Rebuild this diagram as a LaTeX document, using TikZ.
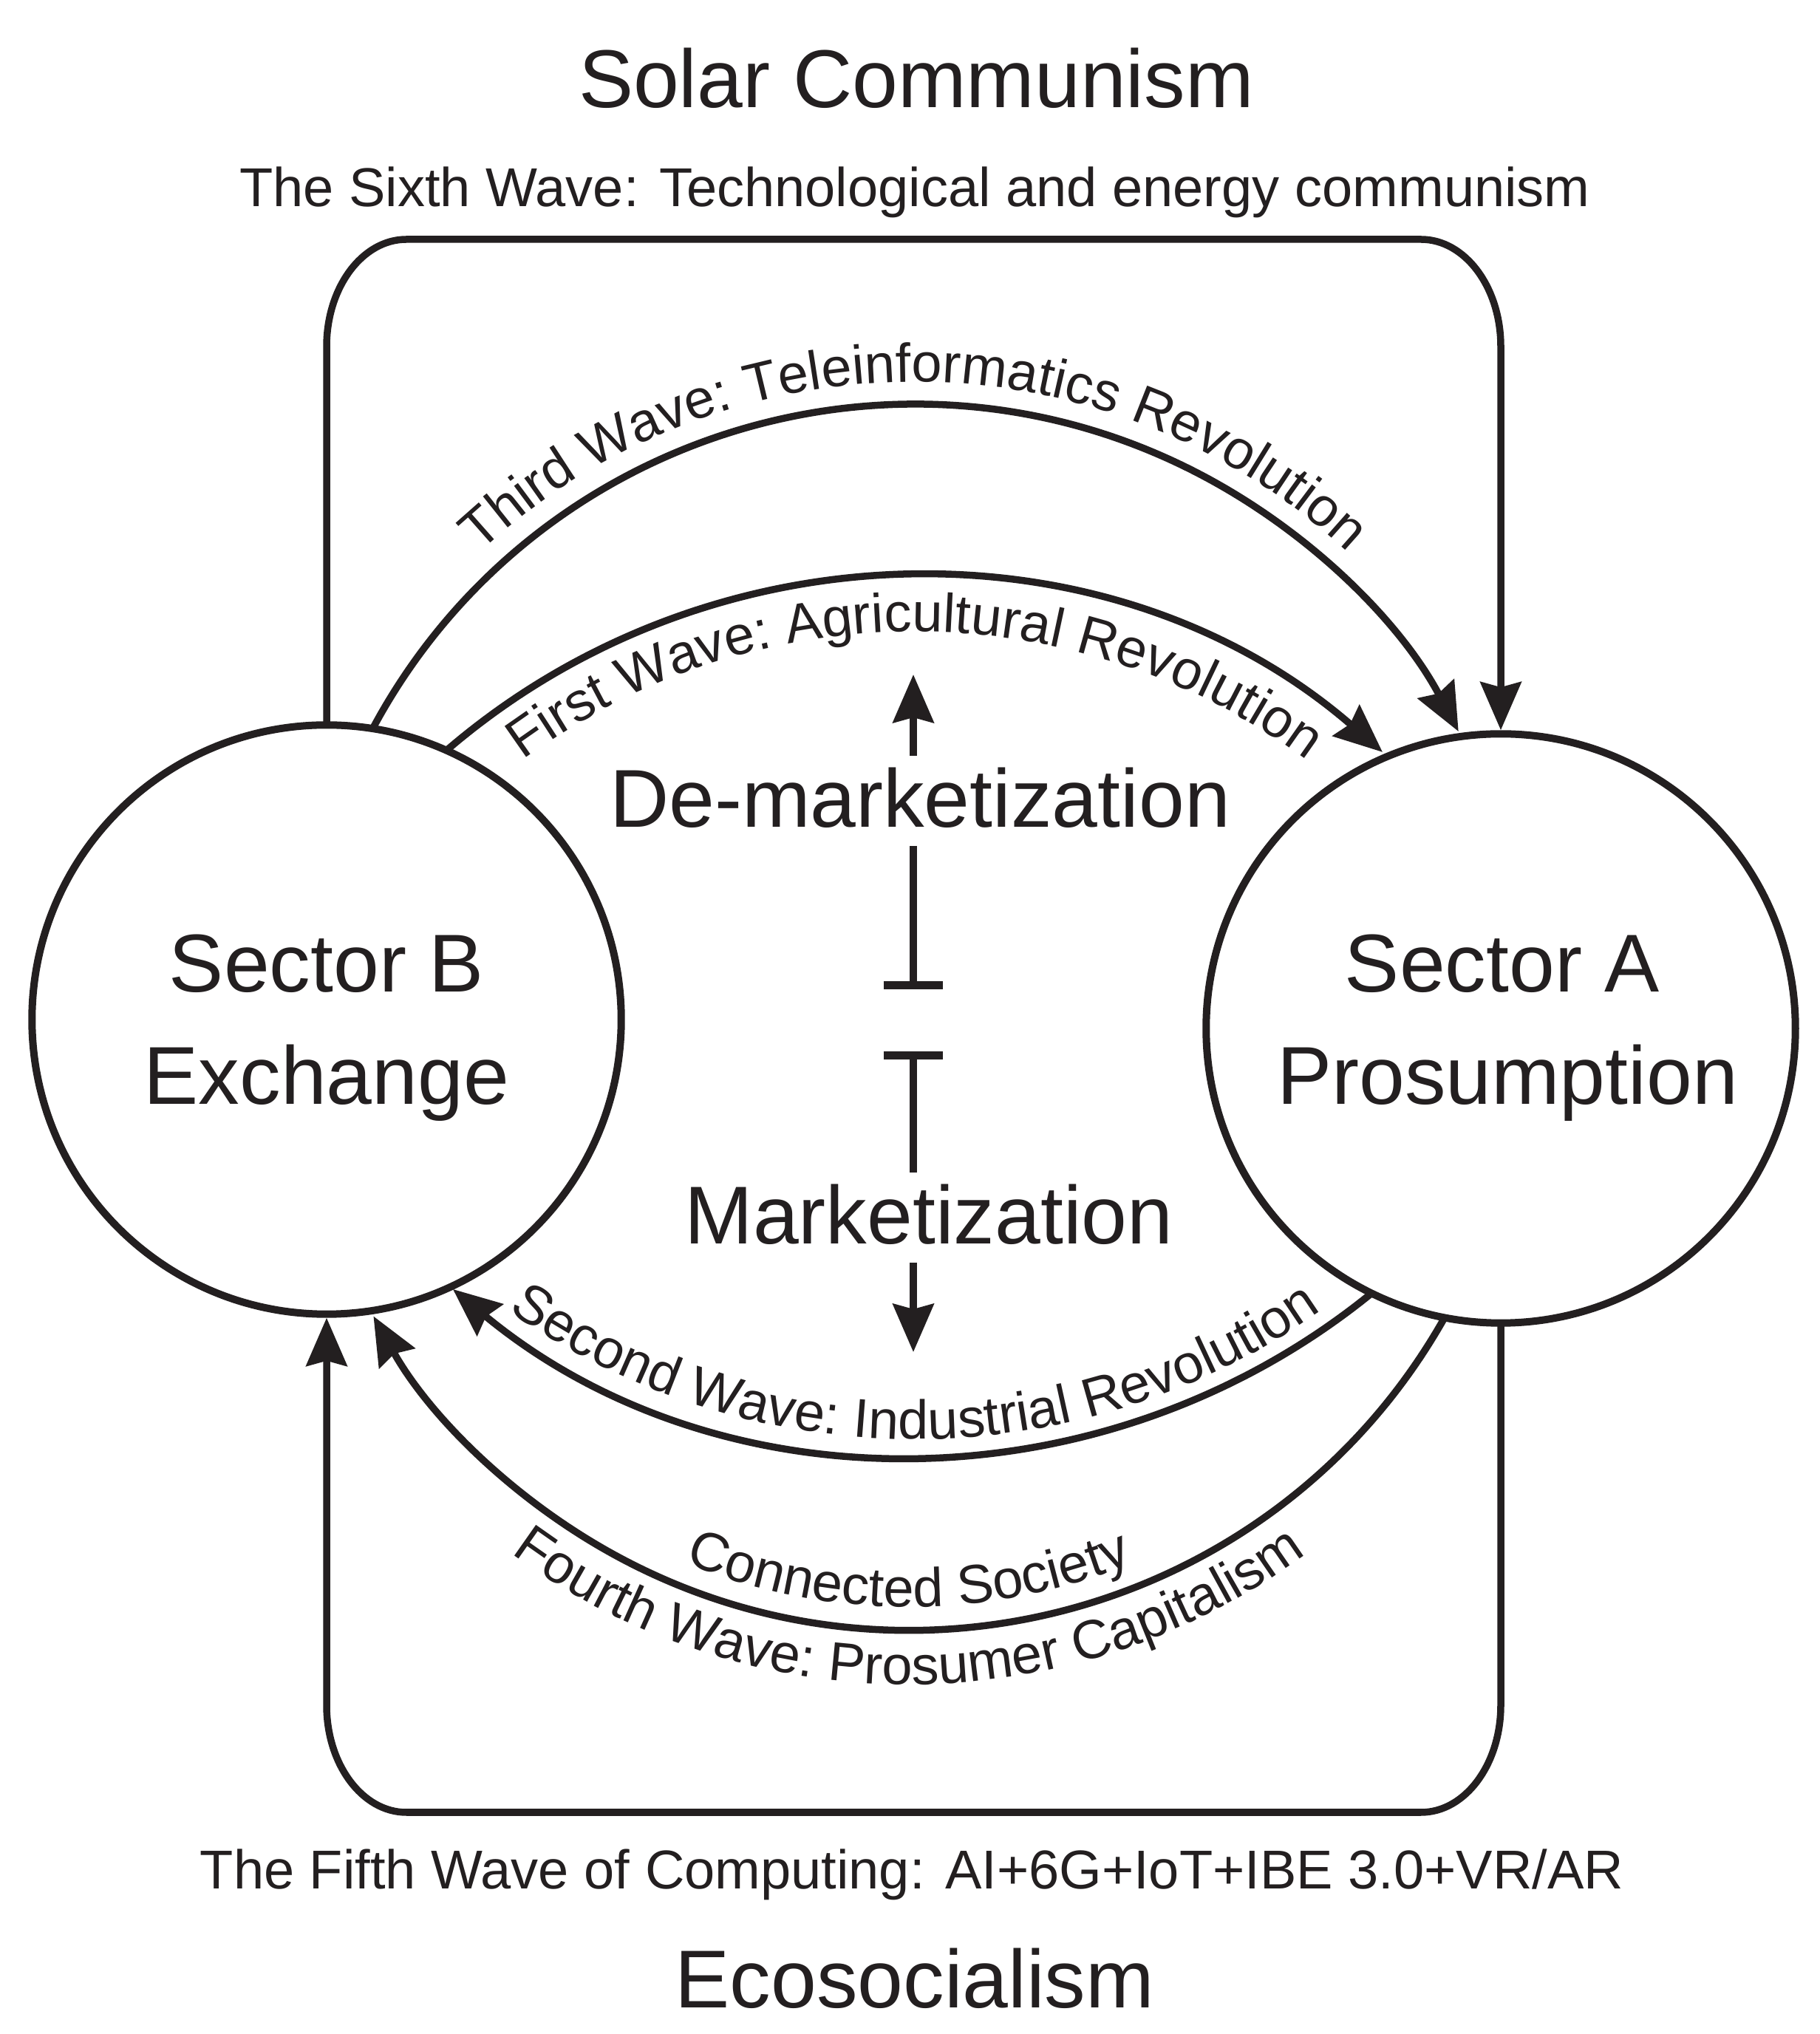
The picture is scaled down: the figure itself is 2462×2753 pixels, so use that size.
\documentclass[tikz,border=0pt]{standalone}
\usepackage{fontspec}
\setmainfont{Liberation Sans}
\usetikzlibrary{arrows.meta,decorations.text}
\definecolor{ink}{RGB}{35,31,32}
\newcommand\sizeL{\fontsize{31.6pt}{43.2pt}\selectfont}
\newcommand\sizeM{\fontsize{21.06pt}{25.3pt}\selectfont}
\tikzset{
  conn/.style={draw=ink, line width=0.095cm},
  tipstyle/.style={-{Stealth[length=0.65cm,width=0.55cm,inset=0.07cm]}},
  arr/.style={conn, tipstyle},
  arrv/.style={conn, tipstyle, shorten >=0.05cm},
  sector/.style={circle, draw=ink, line width=0.1cm, minimum size=7.97cm, inner sep=0pt, outer sep=0pt},
  big/.style={font=\sizeL, text=ink, inner sep=0pt, anchor=base},
  mid/.style={font=\sizeM, text=ink, inner sep=0pt, anchor=base},
  curved/.style={decorate, decoration={text along path, text align=center, text color=ink, text={#1}}},
}
\begin{document}
\begin{tikzpicture}[x=0.01cm, y=0.01cm]
\useasboundingbox (0,0) rectangle (2462,2753);

% sectors
\node[sector] (B) at (442,1373) {};
\node[sector] (A) at (2031,1361) {};
\node[big] (Bt1) at (442,1410) {Sector B};
\node[big] (Bt2) at (442,1258) {Exchange};
\node[big] (At1) at (2033,1410) {Sector A};
\node[big] (At2) at (2040,1258) {Prosumption};

% titles
\node[big] (solar) at (1240,2607) {Solar Communism};
\node[mid] (sixth) at (1238,2473) {The Sixth Wave: Technological and energy communism};
\node[mid] (fifth) at (1234,196) {The Fifth Wave of Computing: AI+6G+IoT+IBE 3.0+VR/AR};
\node[big] (eco) at (1238,35) {Ecosocialism};

% centre
\node[big] (demark) at (1245,1633) {De-marketization};
\node[big] (mark) at (1257,1069) {Marketization};
\coordinate (upS) at (1236,1730);
\coordinate (upE) at (1236,1840);
\coordinate (tbS) at (1236,1608);
\coordinate (tbE) at (1236,1419);
\coordinate (bbS) at (1236,1166);
\coordinate (bbE) at (1236,1324);
\coordinate (dnS) at (1236,1044);
\coordinate (dnE) at (1236,923);
\draw[arr] (upS) -- (upE);
\draw[arr] (dnS) -- (dnE);
\draw[conn] (tbS) -- (tbE);
\draw[conn, line width=0.11cm] ([xshift=-0.4cm]tbE) -- ([xshift=0.4cm]tbE);
\draw[conn] (bbS) -- (bbE);
\draw[conn, line width=0.11cm] ([xshift=-0.4cm]bbE) -- ([xshift=0.4cm]bbE);

% outer loops
\draw[arrv] (B.north) -- (442,2284) arc[start angle=180, end angle=90, x radius=108, y radius=145]
  -- (1923,2429) arc[start angle=90, end angle=0, x radius=108, y radius=145] -- (A.north);
\draw[arrv] (A.south) -- (2031,445) arc[start angle=0, end angle=-90, x radius=108, y radius=145]
  -- (550,300) arc[start angle=270, end angle=180, x radius=108, y radius=145] -- (B.south);

% wave arcs
\draw[arr] (B.81) arc[start angle=151.8, end angle=27.9, radius=832.5];
\draw[arr] (B.66) arc[start angle=130.7, end angle=49.1, radius=969.4];
\draw[arr] (A.244) arc[start angle=-50.9, end angle=-129.6, radius=980.5];
\draw[arr] (A.259) arc[start angle=-29.4, end angle=-150.75, radius=831.3];

% curved labels
\coordinate (c3) at (1237,1374);
\coordinate (c1) at (1238,1002);
\coordinate (c2) at (1238,1763);
\coordinate (c4) at (1230,1378);
\path[curved={|\sizeM|Third Wave: Teleinformatics Revolution}]
  ([shift={(150:862)}]c3) arc[start angle=150, end angle=30, radius=862];
\path[curved={|\sizeM|First Wave: Agricultural Revolution}]
  ([shift={(130:896)}]c1) arc[start angle=130, end angle=50, radius=896];
\path[curved={|\sizeM|Second Wave: Industrial Revolution}]
  ([shift={(-140:958)}]c2) arc[start angle=-140, end angle=-40, radius=958];
\path[curved={|\sizeM|Connected Society}]
  ([shift={(-130:800)}]c4) arc[start angle=-130, end angle=-50, radius=800];
\path[curved={|\sizeM|Fourth Wave: Prosumer Capitalism}]
  ([shift={(-140:905)}]c4) arc[start angle=-140, end angle=-40, radius=905];
\end{tikzpicture}
\end{document}
